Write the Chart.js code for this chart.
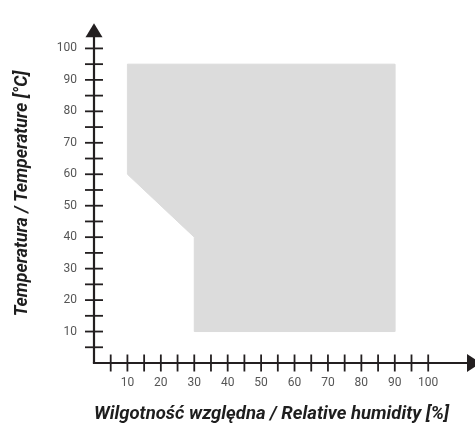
<!DOCTYPE html>
<html><head><meta charset="utf-8">
<script src="https://cdn.jsdelivr.net/npm/chart.js@4.4.0/dist/chart.umd.min.js"></script>
<style>html,body{margin:0;padding:0;background:#fff}#wrap{width:475px;height:425px;position:relative}</style>
</head><body><div id="wrap"><canvas id="c"></canvas></div>
<script>
// Operating region polygon (humidity %, temperature °C)
const regionHumidity    = [10, 90, 90, 30, 30, 10, 10];
const regionTemperature = [95, 95, 10, 10, 40, 60, 95];
// Tick positions
const xTickValues = [5,10,15,20,25,30,35,40,45,50,55,60,65,70,75,80,85,90,95,100];
const yTickValues = [5,10,15,20,25,30,35,40,45,50,55,60,65,70,75,80,85,90,95,100];
const xAxisRange = [0, 114];
const yAxisRange = [0, 107.7];
const xTitle = 'Wilgotność względna / Relative humidity [%]';
const yTitle = 'Temperatura / Temperature [°C]';

const points = regionHumidity.map((h, i) => ({x: h, y: regionTemperature[i]}));
const labelFor = v => (v % 10 === 0 ? String(v) : '');

const axesPlugin = {
  id: 'arrowAxes',
  afterDatasetsDraw(chart) {
    const {ctx, chartArea: a, scales: {x, y}} = chart;
    const x0 = x.getPixelForValue(0), y0 = y.getPixelForValue(0);
    ctx.save();
    ctx.strokeStyle = '#231f20';
    ctx.fillStyle = '#231f20';
    ctx.lineWidth = 2.2;
    ctx.beginPath(); ctx.moveTo(x0, y0); ctx.lineTo(x0, a.top + 10); ctx.stroke();
    ctx.beginPath(); ctx.moveTo(x0 - 1.1, y0); ctx.lineTo(a.right - 6, y0); ctx.stroke();
    ctx.lineWidth = 1.8;
    yTickValues.forEach(v => {
      const p = y.getPixelForValue(v);
      ctx.beginPath(); ctx.moveTo(x0 - 9, p); ctx.lineTo(x0 + 9, p); ctx.stroke();
    });
    xTickValues.forEach(v => {
      const p = x.getPixelForValue(v);
      ctx.beginPath(); ctx.moveTo(p, y0 - 8.5); ctx.lineTo(p, y0 + 8.5); ctx.stroke();
    });
    ctx.beginPath();
    ctx.moveTo(x0, a.top - 1); ctx.lineTo(x0 - 8.5, a.top + 13); ctx.lineTo(x0 + 8.5, a.top + 13);
    ctx.closePath(); ctx.fill();
    ctx.beginPath();
    ctx.moveTo(a.right + 6, y0); ctx.lineTo(a.right - 8, y0 - 9); ctx.lineTo(a.right - 8, y0 + 9);
    ctx.closePath(); ctx.fill();
    ctx.restore();
  }
};

new Chart(document.getElementById('c'), {
  type: 'scatter',
  data: {
    datasets: [{
      data: points,
      showLine: true,
      fill: 'shape',
      backgroundColor: '#dcdcdc',
      borderColor: '#dcdcdc',
      borderWidth: 1,
      pointRadius: 0,
      tension: 0
    }]
  },
  options: {
    responsive: true,
    maintainAspectRatio: false,
    animation: false,
    layout: {padding: {top: 14, left: 0, right: 0, bottom: 0}},
    plugins: {legend: {display: false}, tooltip: {enabled: false}},
    scales: {
      x: {
        type: 'linear',
        min: xAxisRange[0], max: xAxisRange[1],
        grid: {display: false, drawTicks: false, tickLength: 0},
        border: {display: false},
        afterBuildTicks: s => { s.ticks = xTickValues.map(v => ({value: v})); },
        afterFit: s => { s.height = 62; },
        ticks: {
          autoSkip: false, maxRotation: 0, padding: 13,
          color: '#555', font: {family: 'Roboto', size: 12},
          callback: v => labelFor(v)
        },
        title: {
          display: true, text: xTitle, align: 'start',
          color: '#1e1e1e', padding: {top: 0, bottom: 0},
          font: {family: 'Roboto', size: 18.5, weight: 'bold', style: 'italic'}
        }
      },
      y: {
        type: 'linear',
        min: yAxisRange[0], max: yAxisRange[1],
        grid: {display: false, drawTicks: false, tickLength: 0},
        border: {display: false},
        afterBuildTicks: s => { s.ticks = yTickValues.map(v => ({value: v})); },
        afterFit: s => { s.width = 94; },
        ticks: {
          autoSkip: false, padding: 17,
          color: '#555', font: {family: 'Roboto', size: 12},
          callback: v => labelFor(v)
        },
        title: {
          display: true, text: yTitle,
          color: '#1e1e1e', padding: {top: 12, bottom: 0},
          font: {family: 'Roboto', size: 17.8, weight: 'bold', style: 'italic'}
        }
      }
    }
  },
  plugins: [axesPlugin]
});
</script>
</body></html>
